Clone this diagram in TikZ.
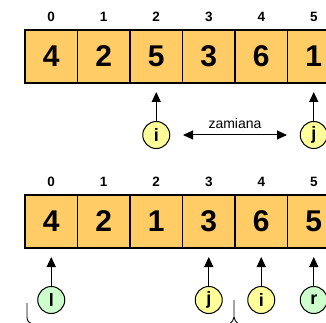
\documentclass[tikz,border=0pt]{standalone}
\usepackage{fontspec}
\setmainfont{Liberation Sans}
\usetikzlibrary{arrows.meta}
\definecolor{cellfill}{HTML}{FFCC66}
\definecolor{yel}{HTML}{FFFF99}
\definecolor{grn}{HTML}{CCFFCC}
\begin{document}
\begin{tikzpicture}[x=1pt,y=-1pt,
  cell/.style={draw=black,line width=1.6pt,fill=cellfill,minimum width=52.5pt,minimum height=53pt,inner sep=0pt,font=\bfseries\fontsize{30}{30}\selectfont},
  idx/.style={font=\bfseries\fontsize{13.5}{13.5}\selectfont,inner sep=0pt},
  ptr/.style={circle,draw=black,line width=1pt,minimum size=27pt,inner sep=0pt,font=\bfseries\fontsize{18}{18}\selectfont},
  yptr/.style={ptr,fill=yel},
  gptr/.style={ptr,fill=grn},
  arr/.style={line width=1pt,-{Triangle[length=10pt,width=9pt]}},
  darr/.style={line width=1pt,{Triangle[length=10pt,width=9pt]}-{Triangle[length=10pt,width=9pt]}},
  brc/.style={line width=0.9pt}
]
\useasboundingbox (0,0) rectangle (326,323);
\clip (0,0) rectangle (326,323);
% top array
\foreach \v [count=\k from 0] in {4,2,5,3,6,1} {
  \node[cell] (t\k) at (51.25+52.5*\k,56.5) {\v};
  \node[idx] (ti\k) at (51.25+52.5*\k,17) {\k};
}
\node[yptr] (ti) at (156.25,135) {i};
\node[yptr] (tj) at (313.75,135) {j};
\coordinate (tia) at (156.25,92);
\coordinate (tja) at (313.75,92);
\draw[arr] (ti) -- (tia);
\draw[arr] (tj) -- (tja);
\coordinate (za) at (183,135);
\coordinate (zb) at (287,135);
\draw[darr] (za) -- (zb);
\node[font=\fontsize{14}{14}\selectfont,inner sep=0pt] (zam) at (235,123) {zamiana};
% bottom array
\foreach \v [count=\k from 0] in {4,2,1,3,6,5} {
  \node[cell] (b\k) at (51.25+52.5*\k,221.5) {\v};
  \node[idx] (bi\k) at (51.25+52.5*\k,182) {\k};
}
\node[gptr] (bl) at (51.25,300) {l};
\node[yptr] (bj) at (208.75,300) {j};
\node[yptr] (bii) at (261.25,300) {i};
\node[gptr] (br) at (313.75,300) {r};
\foreach \n/\x in {bl/51.25,bj/208.75,bii/261.25,br/313.75} {
  \coordinate (\n a) at (\x,257);
  \draw[arr] (\n) -- (\n a);
}
% braces (partially visible)
\draw[brc] (27,303) -- (27,317) .. controls (27,321) and (29,323) .. (33,324);
\draw[brc] (234,300) -- (234,317) .. controls (234,320) and (232,322) .. (229,324);
\draw[brc] (234,317) .. controls (234,320) and (236,322) .. (239,324);
\end{tikzpicture}
\end{document}
